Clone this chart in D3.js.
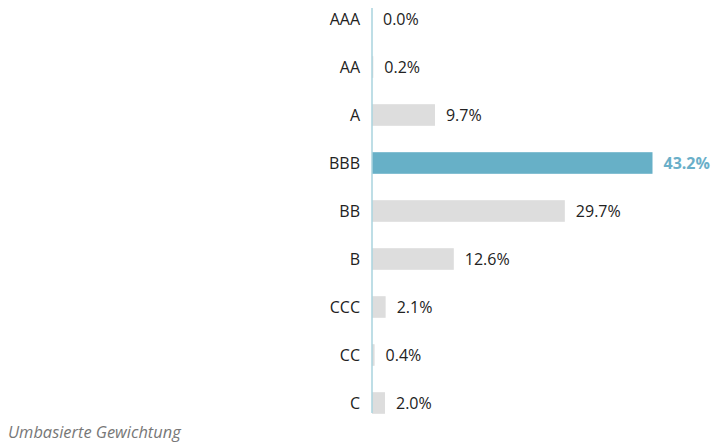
<!DOCTYPE html>
<html>
<head>
<meta charset="utf-8">
<script src="https://cdn.jsdelivr.net/npm/d3@7"></script>
<style>
  body{margin:0;background:#fff;}
  svg{display:block;font-family:"Open Sans",sans-serif;}
</style>
</head>
<body>
<svg id="chart" width="711" height="443"></svg>
<script>
const ratings=["AAA","AA","A","BBB","BB","B","CCC","CC","C"];
const weights=[0.0,0.2,9.7,43.2,29.7,12.6,2.1,0.4,2.0];
const highlight="BBB";
const footnote="Umbasierte Gewichtung";

const svg=d3.select("#chart");
const x0=372;

const x=d3.scaleLinear().domain([0,43.2]).range([x0,652.5]);
const y=d3.scaleBand().domain(ratings).range([-5,427]).paddingInner(0.55).paddingOuter(0.275);

const rows=ratings.map((r,i)=>({r,v:weights[i]}));

svg.selectAll("rect.bar")
  .data(rows)
  .join("rect")
  .attr("class","bar")
  .attr("x",x(0))
  .attr("y",d=>y(d.r))
  .attr("width",d=>x(d.v)-x(0))
  .attr("height",y.bandwidth())
  .attr("fill",d=>d.r===highlight?"#67b0c7":"#dddddd");

svg.append("line")
  .attr("x1",x0).attr("x2",x0)
  .attr("y1",8).attr("y2",413)
  .attr("stroke","#a9d3de")
  .attr("stroke-width",1.5);

svg.selectAll("text.cat")
  .data(rows)
  .join("text")
  .attr("class","cat")
  .attr("x",360)
  .attr("y",d=>y(d.r)+y.bandwidth()/2)
  .attr("dy","0.35em")
  .attr("text-anchor","end")
  .attr("font-size",16)
  .attr("fill","#222")
  .text(d=>d.r);

svg.selectAll("text.val")
  .data(rows)
  .join("text")
  .attr("class","val")
  .attr("x",d=>x(d.v)+11)
  .attr("y",d=>y(d.r)+y.bandwidth()/2)
  .attr("dy","0.35em")
  .attr("font-size",16)
  .attr("font-weight",d=>d.r===highlight?700:400)
  .attr("fill",d=>d.r===highlight?"#6aafc9":"#222")
  .text(d=>d.v.toFixed(1)+"%");

svg.append("text")
  .attr("x",8).attr("y",438)
  .attr("font-size",16.4)
  .attr("font-style","italic")
  .attr("fill","#777")
  .text(footnote);
</script>
</body>
</html>
